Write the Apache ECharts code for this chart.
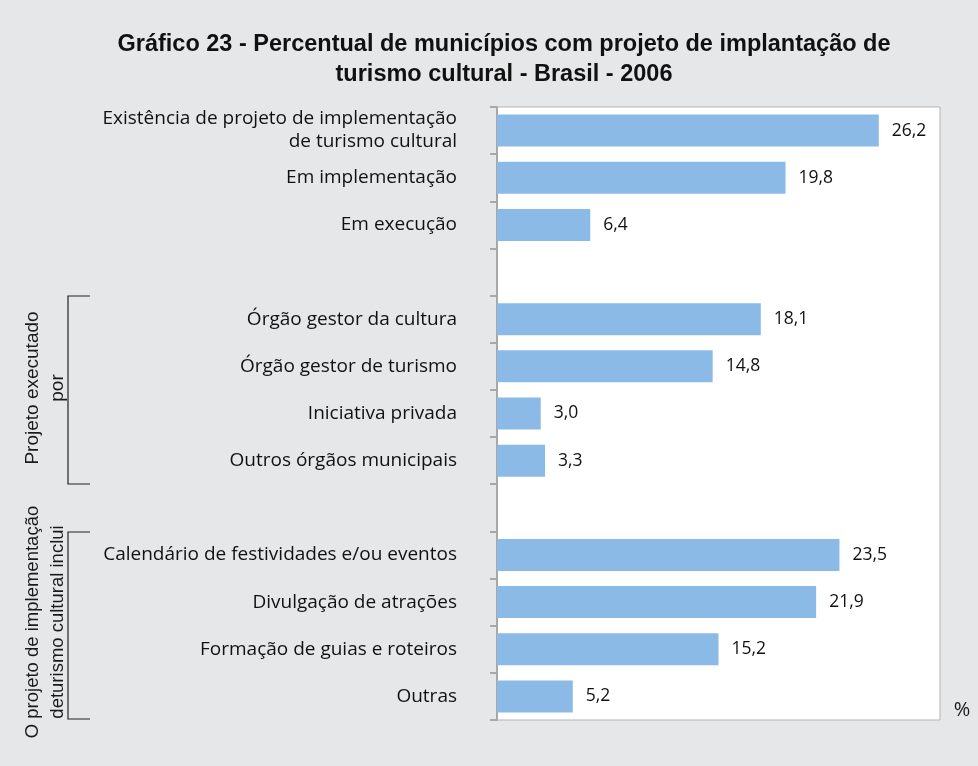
<!DOCTYPE html>
<html><head><meta charset="utf-8">
<script src="https://cdn.jsdelivr.net/npm/echarts@6/dist/echarts.min.js"></script>
<style>html,body{margin:0;padding:0;background:#e6e7e8;}#c{width:978px;height:766px;}</style>
</head><body><div id="c"></div>
<script>
const categories = [
  'Existência de projeto de implementação\nde turismo cultural',
  'Em implementação',
  'Em execução',
  ' ',
  'Órgão gestor da cultura',
  'Órgão gestor de turismo',
  'Iniciativa privada',
  'Outros órgãos municipais',
  '  ',
  'Calendário de festividades e/ou eventos',
  'Divulgação de atrações',
  'Formação de guias e roteiros',
  'Outras'
];
const values = [26.2, 19.8, 6.4, null, 18.1, 14.8, 3.0, 3.3, null, 23.5, 21.9, 15.2, 5.2];
const titleText = 'Gráfico 23 - Percentual de municípios com projeto de implantação de\nturismo cultural - Brasil - 2006';
const groupLabels = ['Projeto executado\npor', 'O projeto de implementação\ndeturismo cultural inclui'];
const unitLabel = '%';

const FONT = '"Liberation Sans", Arial, sans-serif';
const LFONT = '"Open Sans", "Noto Sans", sans-serif';
const chart = echarts.init(document.getElementById('c'));
chart.setOption({
  backgroundColor: '#e6e7e8',
  animation: false,
  title: {
    text: titleText, left: 499, top: 25, textAlign: 'center',
    textStyle: { fontFamily: FONT, fontSize: 23.5, fontWeight: 'bold', color: '#111', lineHeight: 30 }
  },
  grid: { left: 497, top: 107, right: 38, bottom: 46, show: true, backgroundColor: '#fff', borderColor: '#b5b5b5', borderWidth: 1 },
  xAxis: { type: 'value', min: 0, max: 30.4, show: false },
  yAxis: {
    type: 'category', data: categories, inverse: true,
    axisLine: { show: true, lineStyle: { color: '#a8a8a8', width: 2 } },
    axisTick: { show: true, length: 7, lineStyle: { color: '#a8a8a8', width: 2 } },
    axisLabel: { margin: 40, fontFamily: LFONT, fontSize: 19, color: '#111', align: 'right', lineHeight: 23 }
  },
  series: [{
    type: 'bar', data: values, barWidth: 32,
    itemStyle: { color: '#8bbae6' },
    label: {
      show: true, position: 'right', distance: 13,
      fontFamily: LFONT, fontSize: 17.5, color: '#111',
      formatter: p => p.value == null ? '' : p.value.toFixed(1).replace('.', ',')
    }
  }],
  graphic: [
    { type: 'polyline', shape: { points: [[90, 296], [68, 296], [68, 484], [90, 484]] }, style: { stroke: '#222', lineWidth: 1.2, fill: null } },
    { type: 'polyline', shape: { points: [[90, 532], [68, 532], [68, 719], [90, 719]] }, style: { stroke: '#222', lineWidth: 1.2, fill: null } },
    { type: 'text', x: 45, y: 388, rotation: Math.PI / 2, style: { text: groupLabels[0], align: 'center', verticalAlign: 'middle', font: '19px ' + FONT, fill: '#1a1a1a', lineHeight: 25 } },
    { type: 'text', x: 45, y: 622, rotation: Math.PI / 2, style: { text: groupLabels[1], align: 'center', verticalAlign: 'middle', font: '18.5px ' + FONT, fill: '#1a1a1a', lineHeight: 25 } },
    { type: 'text', x: 962, y: 710, style: { text: unitLabel, align: 'center', verticalAlign: 'middle', font: '20px ' + LFONT, fill: '#1a1a1a' } }
  ]
});
</script></body></html>
